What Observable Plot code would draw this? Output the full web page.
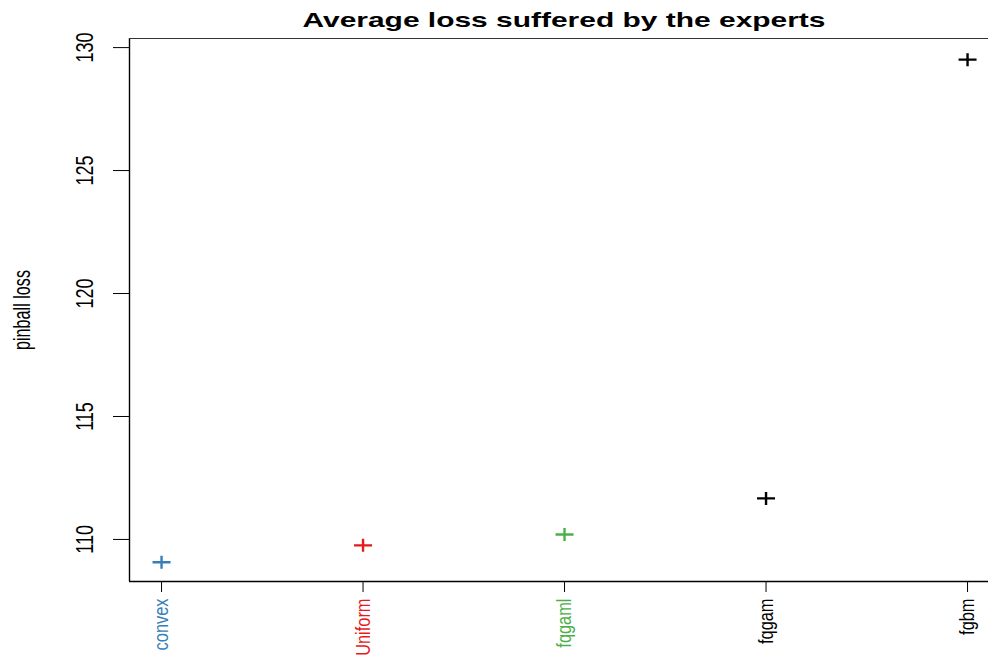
<!DOCTYPE html>
<html><head><meta charset="utf-8">
<script src="https://cdn.jsdelivr.net/npm/d3@7"></script>
<script src="https://cdn.jsdelivr.net/npm/@observablehq/plot@0.6"></script>
<style>body{margin:0;background:#fff} svg{display:block}</style>
</head><body><div id="chart"></div>
<script>
const experts = ["convex", "Uniform", "fqgaml", "fqgam", "fgbm"];
const losses = [109.07, 109.76, 110.20, 111.67, 129.51];
const colors = ["#377EB8", "#E41A1C", "#4DAF4A", "#000000", "#000000"];
const yTicks = [110, 115, 120, 125, 130];
const titleText = "Average loss suffered by the experts";
const yLabel = "pinball loss";
const xDomain = [0.841, 5.104];
const yDomain = [108.29, 130.37];

const idx = experts.map((_, i) => i + 1);
const data = experts.map((name, i) => ({i: i + 1, name, loss: losses[i], color: colors[i]}));

const plusSymbol = {
  draw(ctx) { ctx.moveTo(-9, 0); ctx.lineTo(9, 0); ctx.moveTo(0, -6.5); ctx.lineTo(0, 6.5); }
};

const chart = Plot.plot({
  width: 988, height: 656,
  marginLeft: 129, marginRight: 0, marginTop: 38, marginBottom: 75,
  style: {fontFamily: "'Liberation Sans', Arial, sans-serif", background: "#fff", color: "#000"},
  x: {domain: xDomain},
  y: {domain: yDomain},
  color: {type: "identity"},
  marks: [
    Plot.ruleX([xDomain[0]], {stroke: "#000", strokeWidth: 1.4}),
    Plot.ruleY([yDomain[0]], {stroke: "#000", strokeWidth: 1.4}),
    Plot.ruleY([yDomain[1]], {stroke: "#333", strokeWidth: 1.2}),
    Plot.axisY({ticks: yTicks, tickSize: 16, tickPadding: 21, tickRotate: -90, textAnchor: "middle", lineAnchor: "bottom", fontSize: 24, tickFormat: d => String(d), label: null}),
    Plot.axisX({ticks: idx, tickSize: 11, tickFormat: () => "", label: null}),
    Plot.text(data, {x: "i", text: "name", fill: "color", frameAnchor: "bottom", dy: 17, rotate: -90, textAnchor: "end", lineAnchor: "middle", fontSize: 21}),
    Plot.text([yLabel], {text: d => d, frameAnchor: "left", dx: -107, rotate: -90, textAnchor: "middle", lineAnchor: "middle", fontSize: 24, fill: "#000"}),
    Plot.text([titleText], {text: d => d, frameAnchor: "top", dx: 5, dy: -12, lineAnchor: "bottom", fontSize: 21, fontWeight: "bold", fill: "#000"}),
    Plot.dot(data, {x: "i", y: "loss", stroke: "color", fill: "none", symbol: plusSymbol, strokeWidth: 2.4})
  ]
});

document.getElementById("chart").appendChild(chart);
chart.querySelectorAll("text").forEach(t => {
  const s = t.textContent;
  if (!s) return;
  const len = t.getComputedTextLength();
  let target = null;
  if (s === titleText) target = 523;
  else if (s === yLabel) target = 80;
  else if (yTicks.map(String).includes(s)) target = len * 0.75;
  else if (experts.includes(s)) target = len * 0.78;
  if (target) { t.setAttribute("textLength", target); t.setAttribute("lengthAdjust", "spacingAndGlyphs"); }
});
</script>
</body></html>
